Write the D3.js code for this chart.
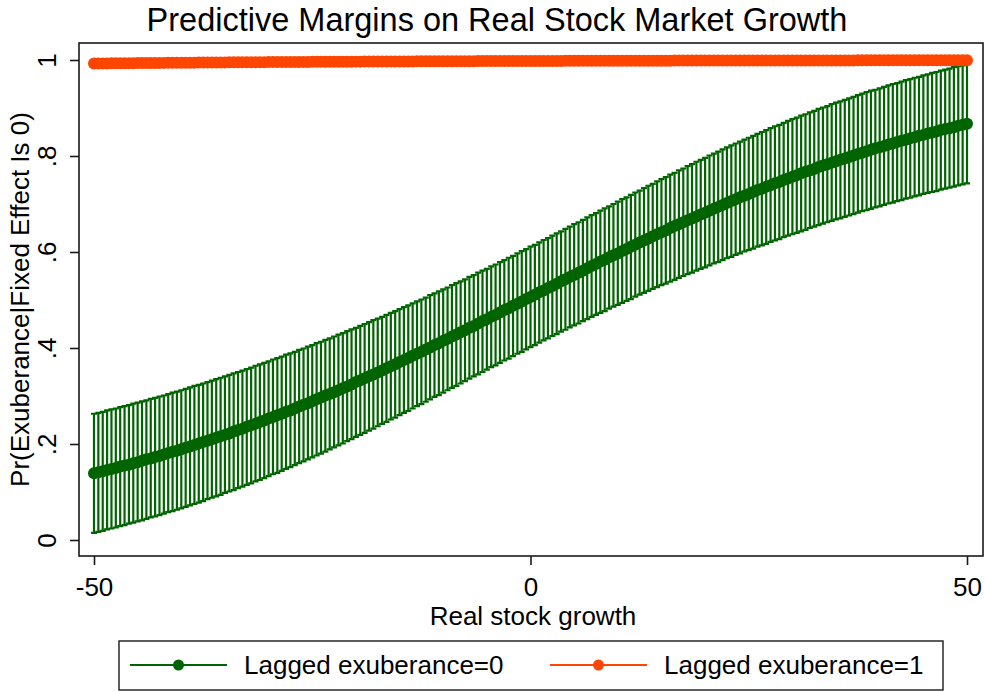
<!DOCTYPE html>
<html>
<head>
<meta charset="utf-8">
<script src="https://cdn.jsdelivr.net/npm/d3@7"></script>
<style>
  body { margin: 0; background: #fff; }
  svg { display: block; font-family: "Liberation Sans", Arial, sans-serif; }
</style>
</head>
<body>
<div id="chart"></div>
<script>
// Real stock growth values where the margins were evaluated
const growth = [
  -50, -49.5, -49, -48.5, -48, -47.5, -47, -46.5, -46, -45.5,
  -45, -44.5, -44, -43.5, -43, -42.5, -42, -41.5, -41, -40.5,
  -40, -39.5, -39, -38.5, -38, -37.5, -37, -36.5, -36, -35.5,
  -35, -34.5, -34, -33.5, -33, -32.5, -32, -31.5, -31, -30.5,
  -30, -29.5, -29, -28.5, -28, -27.5, -27, -26.5, -26, -25.5,
  -25, -24.5, -24, -23.5, -23, -22.5, -22, -21.5, -21, -20.5,
  -20, -19.5, -19, -18.5, -18, -17.5, -17, -16.5, -16, -15.5,
  -15, -14.5, -14, -13.5, -13, -12.5, -12, -11.5, -11, -10.5,
  -10, -9.5, -9, -8.5, -8, -7.5, -7, -6.5, -6, -5.5,
  -5, -4.5, -4, -3.5, -3, -2.5, -2, -1.5, -1, -0.5,
  0, 0.5, 1, 1.5, 2, 2.5, 3, 3.5, 4, 4.5,
  5, 5.5, 6, 6.5, 7, 7.5, 8, 8.5, 9, 9.5,
  10, 10.5, 11, 11.5, 12, 12.5, 13, 13.5, 14, 14.5,
  15, 15.5, 16, 16.5, 17, 17.5, 18, 18.5, 19, 19.5,
  20, 20.5, 21, 21.5, 22, 22.5, 23, 23.5, 24, 24.5,
  25, 25.5, 26, 26.5, 27, 27.5, 28, 28.5, 29, 29.5,
  30, 30.5, 31, 31.5, 32, 32.5, 33, 33.5, 34, 34.5,
  35, 35.5, 36, 36.5, 37, 37.5, 38, 38.5, 39, 39.5,
  40, 40.5, 41, 41.5, 42, 42.5, 43, 43.5, 44, 44.5,
  45, 45.5, 46, 46.5, 47, 47.5, 48, 48.5, 49, 49.5,
  50
];

// Lagged exuberance = 0 : predictive margin
const margin0 = [
  0.139, 0.141, 0.143, 0.146, 0.148, 0.150, 0.153, 0.155, 0.157, 0.160,
  0.162, 0.165, 0.168, 0.170, 0.173, 0.175, 0.178, 0.181, 0.184, 0.186,
  0.189, 0.192, 0.195, 0.198, 0.201, 0.204, 0.207, 0.210, 0.213, 0.216,
  0.219, 0.222, 0.226, 0.229, 0.232, 0.236, 0.239, 0.242, 0.246, 0.249,
  0.253, 0.256, 0.260, 0.263, 0.267, 0.270, 0.274, 0.278, 0.282, 0.285,
  0.289, 0.293, 0.297, 0.301, 0.304, 0.308, 0.312, 0.316, 0.320, 0.324,
  0.329, 0.333, 0.337, 0.341, 0.345, 0.349, 0.353, 0.358, 0.362, 0.366,
  0.371, 0.375, 0.379, 0.384, 0.388, 0.392, 0.397, 0.401, 0.406, 0.410,
  0.415, 0.419, 0.424, 0.428, 0.433, 0.437, 0.442, 0.446, 0.451, 0.456,
  0.460, 0.465, 0.469, 0.474, 0.479, 0.483, 0.488, 0.492, 0.497, 0.502,
  0.506, 0.511, 0.516, 0.520, 0.525, 0.529, 0.534, 0.539, 0.543, 0.548,
  0.552, 0.557, 0.561, 0.566, 0.571, 0.575, 0.580, 0.584, 0.589, 0.593,
  0.597, 0.602, 0.606, 0.611, 0.615, 0.620, 0.624, 0.628, 0.633, 0.637,
  0.641, 0.645, 0.650, 0.654, 0.658, 0.662, 0.666, 0.670, 0.674, 0.678,
  0.682, 0.686, 0.690, 0.694, 0.698, 0.702, 0.706, 0.710, 0.714, 0.717,
  0.721, 0.725, 0.729, 0.732, 0.736, 0.739, 0.743, 0.746, 0.750, 0.753,
  0.757, 0.760, 0.764, 0.767, 0.770, 0.773, 0.777, 0.780, 0.783, 0.786,
  0.789, 0.792, 0.795, 0.798, 0.801, 0.804, 0.807, 0.810, 0.813, 0.816,
  0.818, 0.821, 0.824, 0.826, 0.829, 0.832, 0.834, 0.837, 0.839, 0.842,
  0.844, 0.847, 0.849, 0.851, 0.854, 0.856, 0.858, 0.860, 0.863, 0.865,
  0.867
];

// Lagged exuberance = 0 : lower 95% bound
const lower0 = [
  0.015, 0.017, 0.019, 0.022, 0.024, 0.026, 0.029, 0.031, 0.034, 0.036,
  0.039, 0.041, 0.044, 0.047, 0.049, 0.052, 0.055, 0.058, 0.060, 0.063,
  0.066, 0.069, 0.072, 0.075, 0.078, 0.081, 0.085, 0.088, 0.091, 0.094,
  0.098, 0.101, 0.104, 0.108, 0.111, 0.115, 0.118, 0.122, 0.125, 0.129,
  0.133, 0.137, 0.140, 0.144, 0.148, 0.152, 0.156, 0.160, 0.164, 0.168,
  0.172, 0.176, 0.180, 0.184, 0.189, 0.193, 0.197, 0.201, 0.206, 0.210,
  0.215, 0.219, 0.223, 0.228, 0.232, 0.237, 0.242, 0.246, 0.251, 0.255,
  0.260, 0.265, 0.269, 0.274, 0.279, 0.283, 0.288, 0.293, 0.298, 0.302,
  0.307, 0.312, 0.317, 0.321, 0.326, 0.331, 0.336, 0.341, 0.345, 0.350,
  0.355, 0.360, 0.364, 0.369, 0.374, 0.378, 0.383, 0.388, 0.392, 0.397,
  0.402, 0.406, 0.411, 0.416, 0.420, 0.425, 0.429, 0.434, 0.438, 0.443,
  0.447, 0.451, 0.456, 0.460, 0.465, 0.469, 0.473, 0.477, 0.482, 0.486,
  0.490, 0.494, 0.498, 0.502, 0.507, 0.511, 0.515, 0.519, 0.523, 0.527,
  0.531, 0.534, 0.538, 0.542, 0.546, 0.550, 0.554, 0.557, 0.561, 0.565,
  0.568, 0.572, 0.576, 0.579, 0.583, 0.587, 0.590, 0.594, 0.597, 0.601,
  0.604, 0.607, 0.611, 0.614, 0.617, 0.621, 0.624, 0.627, 0.631, 0.634,
  0.637, 0.640, 0.643, 0.646, 0.650, 0.653, 0.656, 0.659, 0.662, 0.665,
  0.668, 0.670, 0.673, 0.676, 0.679, 0.682, 0.685, 0.687, 0.690, 0.693,
  0.695, 0.698, 0.701, 0.703, 0.706, 0.708, 0.711, 0.713, 0.716, 0.718,
  0.721, 0.723, 0.725, 0.727, 0.730, 0.732, 0.734, 0.736, 0.739, 0.741,
  0.743
];

// Lagged exuberance = 0 : upper 95% bound
const upper0 = [
  0.263, 0.265, 0.267, 0.270, 0.272, 0.274, 0.277, 0.279, 0.281, 0.284,
  0.286, 0.289, 0.291, 0.294, 0.296, 0.299, 0.301, 0.304, 0.307, 0.309,
  0.312, 0.315, 0.318, 0.321, 0.323, 0.326, 0.329, 0.332, 0.335, 0.338,
  0.341, 0.344, 0.347, 0.350, 0.353, 0.356, 0.359, 0.363, 0.366, 0.369,
  0.372, 0.376, 0.379, 0.382, 0.386, 0.389, 0.392, 0.396, 0.399, 0.403,
  0.406, 0.410, 0.413, 0.417, 0.420, 0.424, 0.428, 0.431, 0.435, 0.439,
  0.442, 0.446, 0.450, 0.454, 0.458, 0.461, 0.465, 0.469, 0.473, 0.477,
  0.481, 0.485, 0.489, 0.493, 0.497, 0.501, 0.505, 0.510, 0.514, 0.518,
  0.522, 0.526, 0.531, 0.535, 0.539, 0.543, 0.548, 0.552, 0.557, 0.561,
  0.565, 0.570, 0.574, 0.579, 0.583, 0.588, 0.592, 0.597, 0.602, 0.606,
  0.611, 0.615, 0.620, 0.625, 0.629, 0.634, 0.639, 0.643, 0.648, 0.653,
  0.658, 0.662, 0.667, 0.672, 0.677, 0.681, 0.686, 0.691, 0.695, 0.700,
  0.705, 0.710, 0.714, 0.719, 0.724, 0.728, 0.733, 0.738, 0.742, 0.747,
  0.752, 0.756, 0.761, 0.765, 0.770, 0.774, 0.779, 0.783, 0.788, 0.792,
  0.796, 0.801, 0.805, 0.809, 0.814, 0.818, 0.822, 0.826, 0.830, 0.834,
  0.838, 0.842, 0.846, 0.850, 0.854, 0.858, 0.862, 0.865, 0.869, 0.873,
  0.877, 0.880, 0.884, 0.887, 0.891, 0.894, 0.898, 0.901, 0.904, 0.908,
  0.911, 0.914, 0.917, 0.920, 0.923, 0.927, 0.930, 0.933, 0.936, 0.938,
  0.941, 0.944, 0.947, 0.950, 0.952, 0.955, 0.958, 0.960, 0.963, 0.965,
  0.968, 0.970, 0.973, 0.975, 0.978, 0.980, 0.982, 0.985, 0.987, 0.989,
  0.991
];

// Lagged exuberance = 1 : predictive margin (interval hidden under the line)
const margin1 = [
  0.9926, 0.9927, 0.9928, 0.9929, 0.9930, 0.9930, 0.9931, 0.9932, 0.9933, 0.9934,
  0.9935, 0.9936, 0.9937, 0.9937, 0.9938, 0.9939, 0.9940, 0.9941, 0.9941, 0.9942,
  0.9943, 0.9944, 0.9944, 0.9945, 0.9946, 0.9946, 0.9947, 0.9948, 0.9948, 0.9949,
  0.9950, 0.9951, 0.9951, 0.9952, 0.9952, 0.9953, 0.9954, 0.9954, 0.9955, 0.9955,
  0.9956, 0.9956, 0.9957, 0.9957, 0.9958, 0.9958, 0.9959, 0.9959, 0.9960, 0.9960,
  0.9961, 0.9961, 0.9962, 0.9962, 0.9963, 0.9963, 0.9964, 0.9964, 0.9965, 0.9965,
  0.9966, 0.9966, 0.9967, 0.9967, 0.9968, 0.9968, 0.9968, 0.9969, 0.9969, 0.9970,
  0.9970, 0.9970, 0.9971, 0.9971, 0.9972, 0.9972, 0.9972, 0.9973, 0.9973, 0.9974,
  0.9974, 0.9974, 0.9975, 0.9975, 0.9975, 0.9976, 0.9976, 0.9976, 0.9977, 0.9977,
  0.9977, 0.9977, 0.9978, 0.9978, 0.9978, 0.9979, 0.9979, 0.9979, 0.9980, 0.9980,
  0.9980, 0.9980, 0.9980, 0.9981, 0.9981, 0.9981, 0.9981, 0.9981, 0.9982, 0.9982,
  0.9982, 0.9982, 0.9982, 0.9983, 0.9983, 0.9983, 0.9983, 0.9983, 0.9984, 0.9984,
  0.9984, 0.9984, 0.9984, 0.9985, 0.9985, 0.9985, 0.9985, 0.9985, 0.9986, 0.9986,
  0.9986, 0.9986, 0.9986, 0.9987, 0.9987, 0.9987, 0.9987, 0.9987, 0.9988, 0.9988,
  0.9988, 0.9988, 0.9988, 0.9988, 0.9988, 0.9989, 0.9989, 0.9989, 0.9989, 0.9989,
  0.9989, 0.9989, 0.9989, 0.9990, 0.9990, 0.9990, 0.9990, 0.9990, 0.9991, 0.9991,
  0.9991, 0.9991, 0.9991, 0.9991, 0.9991, 0.9992, 0.9992, 0.9992, 0.9992, 0.9992,
  0.9992, 0.9992, 0.9992, 0.9992, 0.9992, 0.9993, 0.9993, 0.9993, 0.9993, 0.9993,
  0.9993, 0.9993, 0.9993, 0.9993, 0.9993, 0.9994, 0.9994, 0.9994, 0.9994, 0.9994,
  0.9994, 0.9994, 0.9994, 0.9994, 0.9994, 0.9994, 0.9994, 0.9994, 0.9994, 0.9994,
  0.9995
];

const seriesNames = ["Lagged exuberance=0", "Lagged exuberance=1"];
const seriesColors = ["#006400", "#ff4500"];
const xTickValues = [-50, 0, 50];
const xTickLabels = ["-50", "0", "50"];
const yTickValues = [0, 0.2, 0.4, 0.6, 0.8, 1];
const yTickLabels = ["0", ".2", ".4", ".6", ".8", "1"];

// Taille du graphique et zone de tracé
const svgWidth = 985;
const svgHeight = 692;
const box = { left: 79, right: 983, top: 43, bottom: 556 };
const fontFamily = '"Liberation Sans", Arial, sans-serif';

const svg = d3.select("#chart")
    .append("svg")
    .attr("width", svgWidth)
    .attr("height", svgHeight);

// Échelles
const xScale = d3.scaleLinear()
    .domain([-50, 50])
    .range([box.left + 15, box.right - 16]);

const yScale = d3.scaleLinear()
    .domain([0, 1])
    .range([box.bottom - 16, box.top + 17]);

// Lignes de données
const rows0 = growth.map((g, i) => ({ g: g, m: margin0[i], lo: lower0[i], hi: upper0[i] }));
const rows1 = growth.map((g, i) => ({ g: g, m: margin1[i] }));

// Intervalles de confiance (rcap)
const capHalf = 3;
const ci = svg.append("g")
    .attr("stroke", seriesColors[0])
    .attr("stroke-width", 2.2)
    .attr("fill", "none");

ci.selectAll("path")
    .data(rows0)
    .enter()
    .append("path")
    .attr("d", d => {
        const x = xScale(d.g), y0 = yScale(d.lo), y1 = yScale(d.hi);
        return `M${x - capHalf},${y1}H${x + capHalf}M${x},${y1}V${y0}M${x - capHalf},${y0}H${x + capHalf}`;
    });

// Courbes reliées avec marqueurs
const line = d3.line()
    .x(d => xScale(d.g))
    .y(d => yScale(d.m));

[rows0, rows1].forEach((rows, k) => {
    const g = svg.append("g");
    g.append("path")
        .datum(rows)
        .attr("d", line)
        .attr("fill", "none")
        .attr("stroke", seriesColors[k])
        .attr("stroke-width", 2);
    g.selectAll("circle")
        .data(rows)
        .enter()
        .append("circle")
        .attr("cx", d => xScale(d.g))
        .attr("cy", d => yScale(d.m))
        .attr("r", 6)
        .attr("fill", seriesColors[k]);
});

// Cadre de la zone de tracé
svg.append("rect")
    .attr("x", box.left)
    .attr("y", box.top)
    .attr("width", box.right - box.left)
    .attr("height", box.bottom - box.top)
    .attr("fill", "none")
    .attr("stroke", "#1a1a1a")
    .attr("stroke-width", 1.6);

// Axe Y
const yAxis = svg.append("g")
    .attr("transform", `translate(${box.left}, 0)`)
    .call(d3.axisLeft(yScale)
        .tickValues(yTickValues)
        .tickSize(9)
        .tickFormat((d, i) => yTickLabels[i]));

yAxis.select(".domain").remove();
yAxis.attr("font-size", 26).attr("font-family", fontFamily);
yAxis.selectAll(".tick line").attr("stroke", "#1a1a1a").attr("stroke-width", 1.6);
yAxis.selectAll(".tick text")
    .attr("x", null)
    .attr("dy", null)
    .attr("text-anchor", "middle")
    .attr("fill", "#000")
    .attr("transform", "translate(-23, 0) rotate(-90)");

// Axe X
const xAxis = svg.append("g")
    .attr("transform", `translate(0, ${box.bottom})`)
    .call(d3.axisBottom(xScale)
        .tickValues(xTickValues)
        .tickSize(9)
        .tickFormat((d, i) => xTickLabels[i]));

xAxis.select(".domain").remove();
xAxis.attr("font-size", 26).attr("font-family", fontFamily);
xAxis.selectAll(".tick line").attr("stroke", "#1a1a1a").attr("stroke-width", 1.6);
xAxis.selectAll(".tick text")
    .attr("y", 40)
    .attr("dy", null)
    .attr("fill", "#000");

// Titre
svg.append("text")
    .attr("x", 497)
    .attr("y", 31)
    .attr("text-anchor", "middle")
    .attr("font-size", 32.5)
    .text("Predictive Margins on Real Stock Market Growth");

// Titres des axes
svg.append("text")
    .attr("x", 533)
    .attr("y", 625)
    .attr("text-anchor", "middle")
    .attr("font-size", 26)
    .text("Real stock growth");

svg.append("text")
    .attr("transform", `translate(29, ${(box.top + box.bottom) / 2}) rotate(-90)`)
    .attr("text-anchor", "middle")
    .attr("font-size", 26)
    .text("Pr(Exuberance|Fixed Effect Is 0)");

// Légende
const legend = svg.append("g");
legend.append("rect")
    .attr("x", 119)
    .attr("y", 641)
    .attr("width", 824)
    .attr("height", 49)
    .attr("fill", "#fff")
    .attr("stroke", "#1a1a1a")
    .attr("stroke-width", 1.4);

const legendX = [130, 550];
seriesNames.forEach((name, k) => {
    const x0 = legendX[k];
    legend.append("line")
        .attr("x1", x0)
        .attr("x2", x0 + 97)
        .attr("y1", 665)
        .attr("y2", 665)
        .attr("stroke", seriesColors[k])
        .attr("stroke-width", 2.2);
    legend.append("circle")
        .attr("cx", x0 + 48.5)
        .attr("cy", 665)
        .attr("r", 5.5)
        .attr("fill", seriesColors[k]);
    legend.append("text")
        .attr("x", x0 + 114)
        .attr("y", 674)
        .attr("font-size", 26)
        .text(name);
});
</script>
</body>
</html>
